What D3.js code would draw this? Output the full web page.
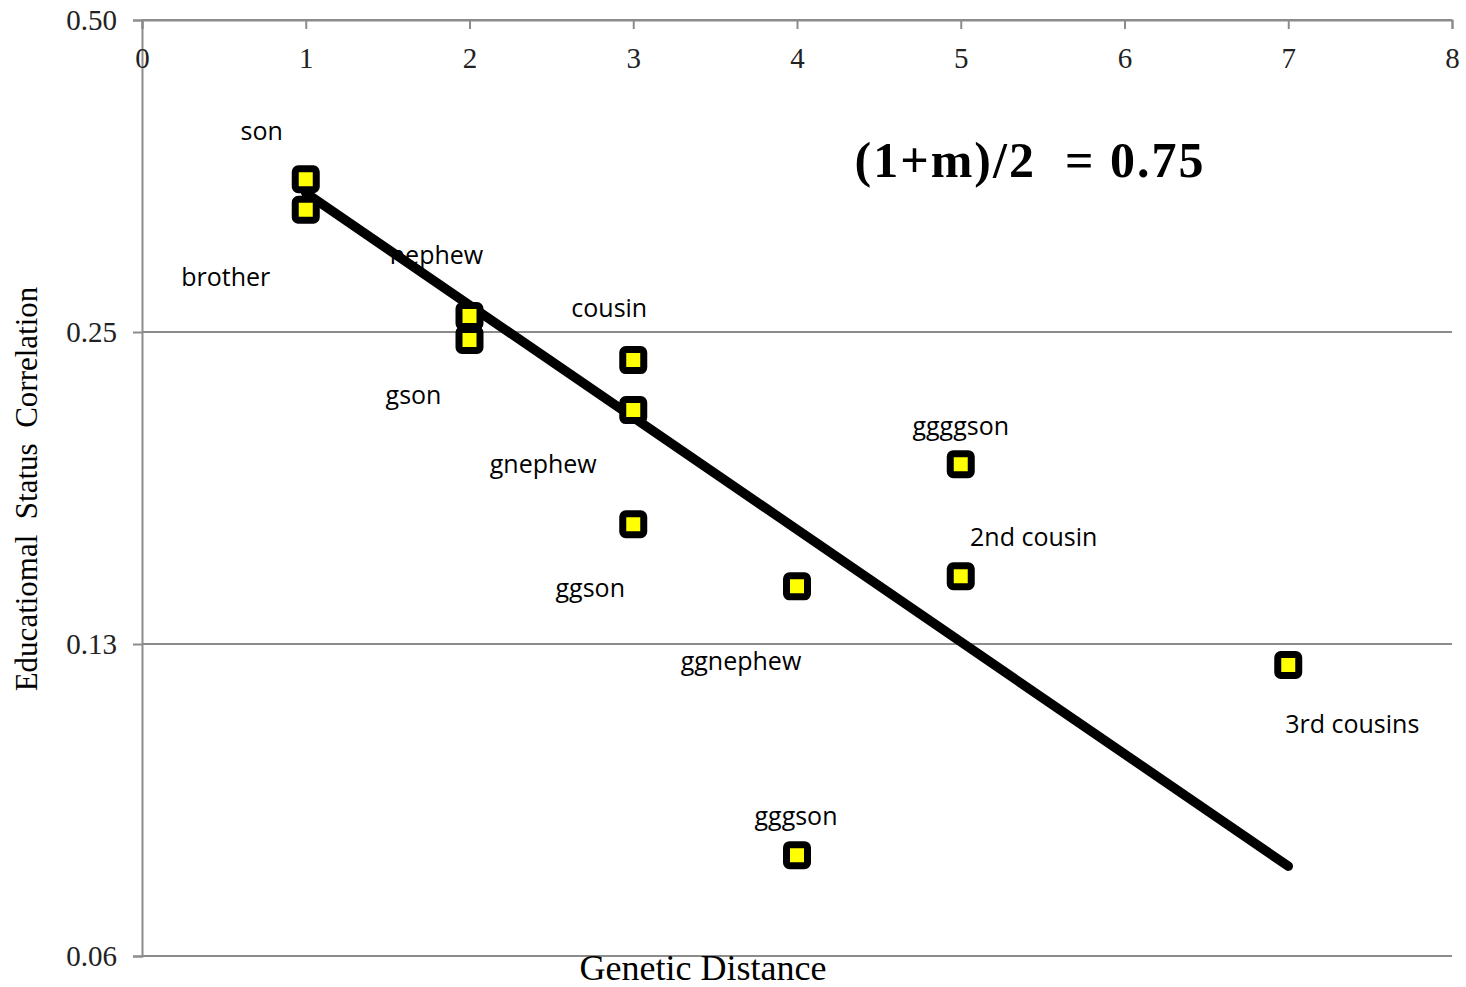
<!DOCTYPE html>
<html>
<head>
<meta charset="utf-8">
<script src="https://cdn.jsdelivr.net/npm/d3@7"></script>
<style>
body{margin:0;background:#fff;}
</style>
</head>
<body>
<script>
// data
const relatives=["son","brother","nephew","gson","cousin","gnephew","ggson","ggnephew","gggson","ggggson","2nd cousin","3rd cousins"];
const distance=[1,1,2,2,3,3,3,4,4,5,5,7];
const correlation=[0.351,0.328,0.259,0.2456,0.2349,0.2102,0.1631,0.1421,0.0782,0.1864,0.1453,0.1193];
const trendX=[1,7];
const trendY=[0.3405,0.0763];
const xTicks=[0,1,2,3,4,5,6,7,8];
const yTicks=[0.5,0.25,0.125,0.0625];
const yTickLabels=["0.50","0.25","0.13","0.06"];
// label offsets (px) from each marker
const labelDx=[-44,-80,-33,-56,-24,-90,-43,-56,-1,0,73,64];
const labelDy=[-48,67,-61,55,-52,54,64,75,-39,-38,-39,59];

const w=1466,h=987;
const mLeft=142,mRight=1452,mTop=20,mBottom=956;
const serif="'Liberation Serif','DejaVu Serif',serif";
const sans="'Open Sans','Noto Sans',sans-serif";

const xScale=d3.scaleLinear().domain([0,8]).range([mLeft,mRight]);
const yScale=d3.scaleLog().base(2).domain([0.0625,0.5]).range([mBottom,mTop]);

const svg=d3.select("body").append("svg").attr("width",w).attr("height",h);

//gridlines
svg.append("g").selectAll("line").data(yTicks).enter().append("line")
  .attr("x1",mLeft).attr("x2",mRight)
  .attr("y1",d=>yScale(d)).attr("y2",d=>yScale(d))
  .attr("stroke","#8c8c8c").attr("stroke-width",2);

//y axis
const yAxis=d3.axisLeft(yScale).tickValues(yTicks).tickSize(9).tickPadding(16)
  .tickFormat((d,i)=>yTickLabels[i]);
const gy=svg.append("g").attr("transform","translate("+mLeft+",0)").call(yAxis);
gy.select(".domain").attr("stroke","#8c8c8c").attr("stroke-width",2);
gy.selectAll(".tick line").attr("stroke","#8c8c8c").attr("stroke-width",2);
gy.selectAll(".tick text").attr("font-family",serif).attr("font-size",29).attr("fill","#222");

//x axis on top, ticks pointing in
const xAxis=d3.axisTop(xScale).tickValues(xTicks).tickSize(-9).tickPadding(-38)
  .tickFormat(d3.format("d"));
const gx=svg.append("g").attr("transform","translate(0,"+mTop+")").call(xAxis);
gx.select(".domain").attr("stroke","#8c8c8c").attr("stroke-width",2);
gx.selectAll(".tick line").attr("stroke","#8c8c8c").attr("stroke-width",2);
gx.selectAll(".tick text").attr("font-family",serif).attr("font-size",29).attr("fill","#222")
  .attr("dy","0.35em");

//trend line
svg.append("line")
  .attr("x1",xScale(trendX[0])).attr("y1",yScale(trendY[0]))
  .attr("x2",xScale(trendX[1])).attr("y2",yScale(trendY[1]))
  .attr("stroke","#000").attr("stroke-width",9.5).attr("stroke-linecap","round");

const pts=relatives.map((r,i)=>({name:r,x:distance[i],y:correlation[i],dx:labelDx[i],dy:labelDy[i]}));

//markers
svg.selectAll("rect.mk").data(pts).enter().append("rect").attr("class","mk")
  .attr("x",d=>xScale(d.x)-10.5).attr("y",d=>yScale(d.y)-10.5)
  .attr("width",21).attr("height",21).attr("rx",3)
  .attr("fill","#ffff00").attr("stroke","#000").attr("stroke-width",7);

//labels
svg.selectAll("text.lbl").data(pts).enter().append("text").attr("class","lbl")
  .attr("x",d=>xScale(d.x)+d.dx).attr("y",d=>yScale(d.y)+d.dy)
  .attr("text-anchor","middle").attr("dy","0.35em")
  .attr("font-family",sans).attr("font-size",25).attr("fill","#000")
  .text(d=>d.name);

//equation
svg.append("text").attr("x",1030).attr("y",177).attr("text-anchor","middle")
  .attr("font-family",serif).attr("font-weight","bold").attr("font-size",50)
  .attr("letter-spacing",2).attr("xml:space","preserve")
  .text("(1+m)/2  = 0.75");

//axis titles
svg.append("text").attr("x",703).attr("y",980).attr("text-anchor","middle")
  .attr("font-family",serif).attr("font-size",36).text("Genetic Distance");
svg.append("text").attr("transform","translate(37,489) rotate(-90)").attr("text-anchor","middle")
  .attr("font-family",serif).attr("font-size",31).attr("xml:space","preserve")
  .text("Educatiomal  Status  Correlation");
</script>
</body>
</html>
